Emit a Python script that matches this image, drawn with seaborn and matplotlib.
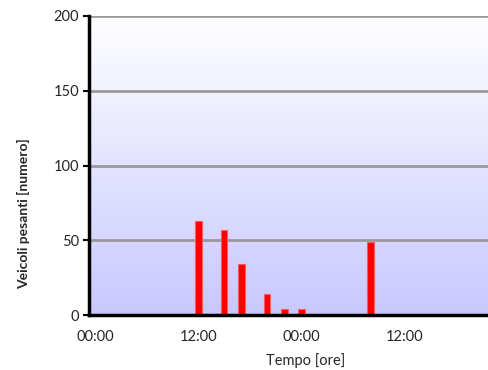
import matplotlib

matplotlib.use("Agg")

import matplotlib.pyplot as plt
import numpy as np
import pandas as pd
import seaborn as sns
from matplotlib.colors import LinearSegmentedColormap

# hours since the first midnight, and count of heavy vehicles in that hour
ore = [12, 15, 17, 20, 22, 24, 32]
veicoli = [63, 57, 34, 14, 4, 4, 49]

tick_ore = [0, 12, 24, 36]
tick_labels = ["00:00", "12:00", "00:00", "12:00"]
y_ticks = [0, 50, 100, 150, 200]

df = pd.DataFrame({"ore": ore, "veicoli": veicoli})

sns.set_theme(style="white")
plt.rcParams["font.family"] = ["Lato", "DejaVu Sans"]

fig = plt.figure(figsize=(4.88, 3.70), dpi=100)
ax = fig.add_axes([0.1824, 0.1486, 0.8176, 0.8082])

x_min, x_max = -0.7, 45.7

# background gradient: white at top to lavender at bottom
cmap = LinearSegmentedColormap.from_list("bg", ["#c8c8ff", "#ffffff"])
grad = np.linspace(0, 1, 256).reshape(-1, 1)
ax.imshow(grad, cmap=cmap, aspect="auto", origin="lower",
          extent=[x_min, x_max, 0, 200], zorder=0)

for y in y_ticks[1:]:
    ax.axhline(y, color="#999999", lw=2, zorder=1)

sns.barplot(data=df, x="ore", y="veicoli", native_scale=True, width=0.4,
            color="#ff0000", edgecolor="#ff5a5a", linewidth=0.8,
            saturation=1, ax=ax, zorder=3)

ax.set_xlim(x_min, x_max)
ax.set_ylim(0, 200)
ax.set_xticks(tick_ore)
ax.set_xticklabels(tick_labels, fontsize=10.5)
ax.set_yticks(y_ticks)
ax.set_yticklabels([str(v) for v in y_ticks], fontsize=10.5)
ax.tick_params(axis="y", direction="out", length=4, width=1.5, color="black", pad=3, left=True)
ax.tick_params(axis="x", length=0, pad=11)

for side in ["top", "right"]:
    ax.spines[side].set_visible(False)
ax.spines["left"].set_color("black")
ax.spines["left"].set_linewidth(2.5)
ax.spines["left"].set_zorder(5)
ax.spines["bottom"].set_color("black")
ax.spines["bottom"].set_linewidth(2.5)
ax.spines["bottom"].set_zorder(5)

ax.set_xlabel("Tempo [ore]", fontsize=10.5)
ax.set_ylabel("Veicoli pesanti [numero]", fontsize=10, fontweight="bold")
ax.xaxis.set_label_coords(0.542, -0.127)
ax.yaxis.set_label_coords(-0.148, 0.338)

fig.savefig("out.png", dpi=100)
